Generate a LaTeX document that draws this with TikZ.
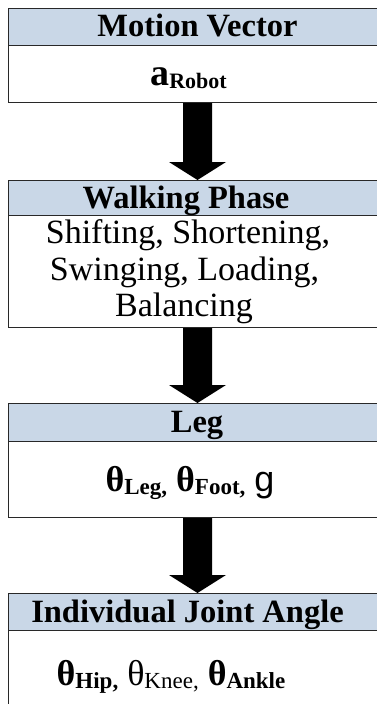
\documentclass[tikz,border=0pt]{standalone}
\usepackage{fontspec}
\setmainfont{Liberation Serif}
\newfontfamily\serifface{Liberation Serif}
\newfontfamily\arialfont{Liberation Sans}
\usetikzlibrary{calc}
\definecolor{headfill}{RGB}{201,215,231}
\definecolor{framecol}{RGB}{40,40,40}

% lowered small subscript used in the formulas
\newcommand\lowsub[1]{\raisebox{-3pt}{\fontsize{23}{23}\selectfont #1}}

% thick downward block arrow from the bottom of one box to the top of the next
\newcommand\blockarrow[2]{%
  \fill[black] ($(#1.south)+(-14.5,0)$) -- ($(#2.north)+(-14.5,-18)$)
    -- ($(#2.north)+(-28.5,-18)$) -- (#2.north) -- ($(#2.north)+(28.5,-18)$)
    -- ($(#2.north)+(14.5,-18)$) -- ($(#1.south)+(14.5,0)$) -- cycle;}

\begin{document}
\begin{tikzpicture}[x=1pt,y=-1pt,
  boxhead/.style={rectangle, draw=framecol, line width=1.2pt, fill=headfill,
    minimum width=378pt, inner sep=0pt, anchor=north},
  boxbody/.style={rectangle, draw=framecol, line width=1.2pt, fill=white,
    minimum width=378pt, inner sep=0pt, anchor=north},
  headtext/.style={anchor=base, inner sep=0pt,
    font=\serifface\fontsize{32.5}{36}\selectfont\bfseries},
  bodytext/.style={anchor=base, inner sep=0pt,
    font=\serifface\fontsize{34}{37}\selectfont\mdseries},
  formula/.style={anchor=base, inner sep=0pt,
    font=\serifface\fontsize{36}{38}\selectfont\bfseries},
]
\useasboundingbox (0,0) rectangle (377,704);

% stage 1
\node[boxbody, minimum height=57pt] (b1) at (197.5,45) {};
\node[boxhead, minimum height=37pt] (h1) at (197.5,8) {};
\node[headtext] (t1) at (197.5,36.5) {Motion Vector};
\node[formula, font=\serifface\fontsize{38}{40}\selectfont\bfseries] (v1) at (188.5,85)
  {a\lowsub{\fontsize{22}{22}\selectfont Robot}};

% stage 2
\node[boxbody, minimum height=112pt] (b2) at (197.5,215) {};
\node[boxhead, minimum height=35pt] (h2) at (197.5,180) {};
\node[headtext] (t2) at (186,208) {Walking Phase};
\node[bodytext] (v2a) at (188,243) {Shifting, Shortening,};
\node[bodytext] (v2b) at (184.5,280) {Swinging, Loading,};
\node[bodytext] (v2c) at (184,316) {Balancing};

% stage 3
\node[boxbody, minimum height=76pt] (b3) at (197.5,441) {};
\node[boxhead, minimum height=38pt] (h3) at (197.5,403) {};
\node[headtext] (t3) at (197,432.5) {Leg};
\node[formula] (v3) at (190,491)
  {θ\lowsub{Leg,} θ\lowsub{Foot,} {\mdseries\arialfont g}};

% stage 4
\node[boxbody, minimum height=95pt] (b4) at (197.5,630) {};
\node[boxhead, minimum height=37pt] (h4) at (197.5,593) {};
\node[headtext] (t4) at (187.5,622) {Individual Joint Angle};
\node[formula] (v4) at (171,685)
  {θ\lowsub{Hip,} {\mdseries θ\lowsub{Knee,}} θ\lowsub{Ankle}};

% connectors
\blockarrow{b1}{h2}
\blockarrow{b2}{h3}
\blockarrow{b3}{h4}
\end{tikzpicture}
\end{document}
